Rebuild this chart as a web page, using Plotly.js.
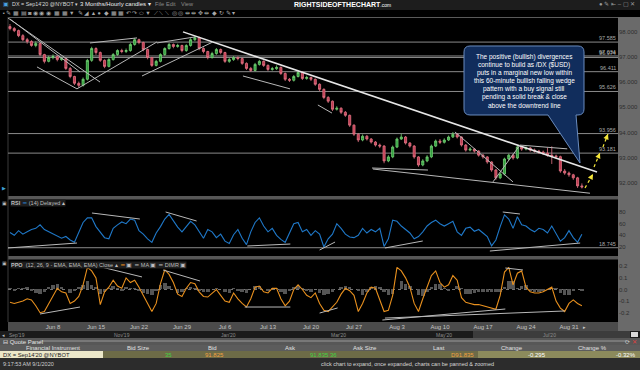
<!DOCTYPE html>
<html><head><meta charset="utf-8">
<script src="https://cdn.plot.ly/plotly-3.0.1.min.js"></script>
<style>html,body{margin:0;padding:0;background:#000;overflow:hidden}#chart{width:640px;height:370px}</style>
</head><body><div id="chart"></div><script>
// ---------------- DATA (half-day candles, day index 0 = Mon Jun 1 2020, trading days only) ----------------
const close = [98.12,98.04,97.84,97.68,97.61,97.45,97.53,97.09,96.82,96.97,
97.01,96.89,96.93,96.54,96.22,95.95,95.87,96.11,96.86,97.33,
97.17,96.86,96.62,96.89,97.09,97.25,97.21,97.25,97.49,97.68,
97.57,97.29,96.97,96.66,96.82,97.09,97.33,97.49,97.41,97.45,
97.25,97.45,97.68,97.76,97.33,97.21,96.97,97.13,97.29,97.17,
96.82,96.89,96.97,96.93,96.74,96.54,96.46,96.70,96.82,96.66,
96.50,96.53,96.58,96.34,96.11,96.07,96.22,96.38,96.14,96.18,
96.11,95.91,95.71,95.39,95.24,94.92,94.96,94.80,94.68,94.29,
93.93,93.70,93.85,93.74,93.62,93.50,93.46,92.87,93.03,93.42,
93.74,93.82,93.58,93.46,93.03,92.71,92.87,93.03,93.46,93.66,
93.61,93.70,93.82,93.93,93.82,93.50,93.30,93.34,93.26,93.10,
93.03,92.83,92.51,92.20,92.35,92.95,93.10,92.99,93.42,93.34,
93.38,93.30,93.26,93.22,93.18,93.10,93.07,93.04,92.47,92.39,
92.32,92.20,91.88,91.84];
const high = [98.30,98.18,98.08,97.90,97.75,97.66,97.62,97.58,97.12,97.04,
97.10,97.06,97.00,96.97,96.60,96.25,96.02,96.18,96.92,97.40,
97.38,97.21,96.90,96.95,97.15,97.30,97.32,97.33,97.55,97.75,
97.72,97.60,97.33,97.00,96.88,97.14,97.38,97.55,97.53,97.52,
97.48,97.50,97.74,97.84,97.80,97.38,97.24,97.20,97.35,97.33,
97.20,96.96,97.03,97.02,96.97,96.78,96.60,96.76,96.88,96.86,
96.70,96.60,96.66,96.62,96.38,96.16,96.28,96.44,96.42,96.25,
96.22,96.14,95.95,95.75,95.44,95.27,95.04,95.00,94.85,94.71,
94.32,93.97,93.92,93.90,93.78,93.66,93.56,93.50,93.10,93.48,
93.80,93.95,93.86,93.62,93.50,93.06,92.94,93.10,93.52,93.72,
93.74,93.77,93.88,94.02,93.97,93.85,93.54,93.42,93.38,93.30,
93.15,93.06,92.86,92.55,92.42,93.00,93.16,93.14,93.50,93.47,
93.45,93.42,93.36,93.31,93.28,93.40,93.45,93.12,93.08,92.55,
92.45,92.36,92.24,91.98];
const low = [98.05,97.98,97.78,97.62,97.52,97.40,97.38,97.02,96.74,96.78,
96.90,96.82,96.84,96.48,96.15,95.88,95.78,95.82,96.06,96.80,
97.08,96.80,96.55,96.58,96.85,97.04,97.14,97.15,97.20,97.44,
97.50,97.22,96.90,96.60,96.62,96.78,97.04,97.28,97.34,97.36,
97.18,97.20,97.40,97.62,97.26,97.14,96.90,96.93,97.08,97.10,
96.76,96.76,96.84,96.86,96.68,96.48,96.40,96.42,96.65,96.60,
96.44,96.45,96.48,96.28,96.04,96.00,96.02,96.18,96.08,96.09,
96.04,95.85,95.64,95.32,95.17,94.85,94.87,94.73,94.62,94.22,
93.86,93.62,93.65,93.68,93.56,93.44,93.38,92.78,92.82,92.98,
93.38,93.70,93.52,93.40,92.96,92.64,92.66,92.82,92.98,93.42,
93.54,93.56,93.66,93.78,93.76,93.44,93.24,93.25,93.20,93.04,
92.96,92.76,92.44,92.12,92.15,92.30,92.90,92.92,92.94,93.27,
93.29,93.24,93.20,93.15,93.11,93.04,92.75,92.98,92.40,92.32,
92.24,92.12,91.80,91.78];
const firstOpen = 98.20;
const open = [firstOpen].concat(close.slice(0, -1));

const rsi = [45,40,48,42,46,50,52,58,50,46,
42,38,35,38,32,28,45,62,70,70,
55,45,36,34,52,58,63,60,68,66,
48,42,34,28,44,55,68,76,64,54,
46,56,64,58,46,35,50,46,36,42,
30,26,41,50,35,24,46,62,70,56,
46,52,40,33,28,45,60,62,46,50,
40,48,42,20,34,42,60,52,42,37,
36,40,52,44,50,46,52,21,34,66,
64,56,50,44,34,38,46,56,62,66,
60,56,60,64,46,40,52,54,47,50,
44,38,22,32,55,75,68,52,72,58,
56,50,46,52,50,44,56,44,30,36,
48,36,28,42];

const ppo = [-0.11,-0.12,-0.11,-0.10,-0.08,-0.09,-0.14,-0.20,-0.19,-0.12,
-0.05,0.01,-0.02,-0.03,-0.12,-0.10,-0.06,0.04,0.19,0.16,
0.10,-0.13,-0.02,0.02,0.08,0.03,0.01,0.10,0.06,0.08,
0.02,-0.05,-0.13,-0.19,-0.12,0.05,0.17,0.13,0.06,-0.04,
-0.06,0.01,0.06,0.05,-0.02,-0.06,-0.065,-0.03,0.00,-0.05,
-0.10,-0.11,-0.03,-0.08,-0.12,-0.15,-0.08,0.02,0.03,-0.02,
-0.03,0.01,0.01,-0.08,-0.14,-0.10,0.00,0.04,0.00,-0.05,
-0.07,-0.03,-0.12,-0.18,-0.19,-0.15,-0.11,-0.04,0.01,-0.01,
-0.05,-0.19,-0.12,-0.03,0.02,0.01,-0.10,-0.19,-0.18,-0.05,
0.19,0.16,0.10,0.02,-0.12,-0.19,-0.08,0.02,0.12,0.16,
0.06,0.02,0.04,0.12,0.08,-0.07,-0.11,-0.12,-0.13,-0.13,
-0.14,-0.15,-0.16,-0.17,-0.05,0.15,0.19,0.04,0.14,0.16,
0.02,-0.02,-0.03,-0.03,-0.02,0.00,0.02,-0.10,-0.16,-0.19,
-0.12,-0.09,-0.12,-0.14];

const ppoHist = [0.01,-0.01,0.01,0.01,0.02,-0.01,-0.03,-0.04,-0.02,0.02,
0.04,0.05,0.02,0.00,-0.03,-0.01,0.02,0.04,0.07,0.04,
0.02,-0.04,-0.02,0.01,0.03,0.01,-0.01,0.02,0.01,0.01,
-0.01,-0.03,-0.04,-0.05,-0.01,0.04,0.06,0.03,0.00,-0.03,
-0.02,0.01,0.02,0.01,-0.01,-0.02,-0.02,0.00,0.01,0.00,
-0.02,-0.03,0.01,-0.01,-0.02,-0.03,0.00,0.03,0.03,0.00,
-0.01,0.01,0.01,-0.02,-0.04,-0.01,0.02,0.03,0.01,-0.01,
-0.02,0.00,-0.03,-0.05,-0.04,-0.02,0.00,0.02,0.03,0.02,
0.00,-0.01,-0.05,-0.02,0.02,0.03,0.02,-0.02,-0.05,-0.04,
0.00,0.07,0.05,0.03,0.00,-0.05,-0.06,-0.02,0.02,0.05,
0.05,0.01,-0.01,0.00,0.03,0.01,-0.04,-0.04,-0.03,-0.02,
-0.02,-0.02,-0.02,-0.02,-0.02,0.02,0.07,0.07,0.01,0.03,
0.04,-0.01,-0.02,-0.02,-0.01,0.00,0.01,0.01,-0.03,-0.05,
-0.05,-0.01,0.00,-0.01];

const dayIndex = close.map((_, i) => i * 0.5);
const weekTickDays = [5,10,15,20,25,30,35,40,45,50,55,60,65];
const weekTickLabels = ['Jun 8','Jun 15','Jun 22','Jun 29','Jul 6','Jul 13','Jul 20','Jul 27','Aug 3','Aug 10','Aug 17','Aug 24','Aug 31'];
const priceTicks = [92,93,94,95,96,97,98];
const rsiTicks = [20,40,60,80];
const ppoTicks = [-0.2,-0.1,0,0.1,0.2];
const ppoTickLabels = ['-0.2','-0.1','0.0','0.1','0.2'];
const priceLevels = [97.585, 97.034, 96.974, 96.411, 95.626, 93.956, 93.181];
const rsiLevel = 18.745;
// drawn trend lines [x0, y0, x1, y1] in (day index, value)
const mainDowntrend = [20.12, 97.99, 68.26, 92.43];
const priceTrendLines = [
  [-0.23,98.54,10.47,96.00],[0.0,98.50,8.14,96.40],[3.14,96.60,7.79,95.73],
  [7.79,95.73,17.09,97.59],[9.3,97.55,14.77,97.75],[15.35,96.24,23.6,97.59],
  [17.09,97.55,21.5,97.79],[27.09,96.24,32.56,95.73],[35.8,95.09,37.44,94.77],
  [42.1,92.59,48.6,92.51],[42.2,92.55,67.44,91.59],[51.74,94.02,58.49,92.04],
  [56.16,92.04,59.3,93.50],[59.3,93.50,64.8,93.35]
];
const rsiTrendLines = [
  [-0.23,18.3,7.79,26.8],[9.53,78.3,15.1,68.0],[18.1,80,21.7,64.6],[27.6,21.7,32.6,25.1],
  [36.0,14.8,37.8,28.5],[43.6,18.3,48.0,30.3],[55.8,13.1,66.3,26.8],[57.3,80,59.3,76.6]
];
const ppoTrendLines = [
  [3.49,-0.211,8.14,-0.151],[27.3,-0.151,32.6,-0.151],[36.0,-0.203,38.1,-0.159],
  [43.3,-0.263,57.6,-0.168],[43.6,-0.246,64.5,-0.185],[8.72,0.228,15.35,0.108],
  [17.8,0.168,22.1,0.073],[57.6,0.185,59.65,0.168]
];
const breakoutArrows = [[66.86,91.80,67.79,92.35],[67.91,92.63,68.60,93.19],[68.95,93.42,69.53,93.94]];
const calloutLines = ['The positive (bullish) divergences','continue to build as /DX ($USD)','puts in a marginal new low within',
  'this 60-minute bullish falling wedge','pattern with a buy signal still','pending a solid break & close','above the downtrend line'];
const overviewLabels = ["Sep'19","Nov'19","Jan'20","Mar'20","May'20","Jul'20"];
const quoteHeaders = ['Financial Instrument','Bid Size','Bid','Ask','Ask Size','Last','Change','Change %'];

// ---------------- LAYOUT HELPERS ----------------
const W = 640, H = 370;
const FONT = 'Liberation Sans, Arial, sans-serif';
const NARROW = 'Liberation Sans Narrow, Liberation Sans, Arial, sans-serif';
const px = v => v / W;
const py = v => 1 - v / H;
const shapes = [];
const ann = [];
function rect(x0, y0, x1, y1, fill, layer, line) {
  shapes.push({type:'rect', xref:'paper', yref:'paper', x0:px(x0), x1:px(x1), y0:py(y1), y1:py(y0),
    fillcolor:fill, line: line || {width:0}, layer: layer || 'below'});
}
function pline(x0, y0, x1, y1, color, w, layer) {
  shapes.push({type:'line', xref:'paper', yref:'paper', x0:px(x0), x1:px(x1), y0:py(y0), y1:py(y1),
    line:{color:color, width:w || 1}, layer: layer || 'below'});
}
function label(x, y, text, size, color, anchor, extra, family) {
  ann.push(Object.assign({xref:'paper', yref:'paper', x:px(x), y:py(y), text:text, showarrow:false,
    xanchor: anchor || 'left', yanchor:'middle', borderpad:0, font:{family:family || FONT, size:size, color:color}}, extra || {}));
}
function dataLine(l, yref, color, w, dash) {
  shapes.push({type:'line', xref:'x', yref:yref, x0:l[0], y0:l[1], x1:l[2], y1:l[3],
    line:{color:color, width:w, dash: dash || 'solid'}, layer:'above'});
}

// ---------------- CHROME ----------------
rect(0, 0, 640, 10, '#1d1d1d');
rect(618, 17, 640, 331, '#6a6a6a');
rect(8, 322, 618, 331, '#4b4b4b');
rect(0, 331, 640, 338, '#1b1b1b');
rect(473, 331, 630, 338, '#3c3c3c');
rect(631, 332, 638, 337, '#d8d8d8');
rect(0, 338, 640, 345, '#575757');
rect(0, 345, 640, 351, '#5c5c5c');
rect(103, 351, 478, 358, '#6d6b47');
rect(478, 351, 640, 358, '#8c8a5c');
rect(0, 351, 103, 358, '#ebe7c9');
rect(0, 358, 640, 370, '#2c2c2c');
rect(8, 196, 618, 199.5, '#575757');
rect(8, 256, 618, 259.5, '#575757');
pline(8, 17.5, 618, 17.5, '#5a5a5a', 1);
pline(8, 17, 8, 322, '#3a3a3a', 1);
pline(40, 341, 627, 341, '#9a9a9a', 1);

label(2, 4.5, '▣', 6, '#4aa3df');
label(11, 4.5, "DX = Sep14'20 @NYBOT ▾", 5.4, '#d8d8d8', 'left', null, NARROW);
label(79, 4.5, '3 Months/Hourly candles ▾', 6, '#ececec', 'left', null, NARROW);
label(154, 4.5, 'File', 5.6, '#8a8a8a');
label(165, 4.5, 'Edit', 5.6, '#8a8a8a');
label(180, 4.5, 'View', 5.6, '#8a8a8a');
label(293, 4.2, '<b>RIGHTSIDEOFTHECHART</b><span style="font-size:5px">.com</span>', 7, '#ffffff', 'left', null, NARROW);
label(636, 4.5, '● ✎ ⇤ – ▢ ✕', 6, '#9a9a9a', 'right');
label(2, 13.5, '▪ ✎ ▦ ▤ ◙ ◉ ◉ ◉  ▦ ▦ ▼  ✎ ◢ ▲ ●  ◆ ▦ ▦ ↶ ↷ ⬭ ▼  ⟋ ⟍ ⟍  ◎ ◎ ⇹ ⇹ ✥ ⇹  ◆ ↻ ✎ ▾', 5.5, '#a8a8a8');
label(1, 188, '▶', 5, '#3fa0d8');
label(1, 203, '▣', 5, '#bbbbbb');
label(1, 263, '▣', 5, '#bbbbbb');

// panel labels
label(10, 203, '<b>RSI</b>  <span style="color:#2a80d0">━</span> (14) Delayed ▴', 5.5, '#bdbdbd', 'left', {bgcolor:'#1e1e1e'});
label(10, 264.5, '<b>PPO</b>  (12, 26, 9 - EMA, EMA, EMA) Close ▴  <span style="color:#e8901e">━</span> ▣  ━ MA ▣  ━ DIMR ▣', 5.5, '#bdbdbd', 'left', {bgcolor:'#1e1e1e'});

// x band extra, overview, quote panel
label(582, 327, '▸', 5, '#cccccc');
const overviewX = [8, 113, 220, 330, 435, 542];
overviewLabels.forEach((t, i) => label(overviewX[i], 334.5, t, 5, '#8c8c8c'));
label(0.5, 334.5, '◂', 5, '#bbbbbb');
label(2, 341.5, '⊟ Quote Panel', 6, '#e6e6e6');
label(638, 342, '⟳ <span style="color:#e04040">✕</span>', 5.5, '#cfcfcf', 'right');
const headerX = [53, 138, 212, 290, 365, 439, 512, 592];
quoteHeaders.forEach((t, i) => label(headerX[i], 348, t, 6, '#e0e0e0', 'center'));
label(2, 354.5, "DX = Sep14'20 @NYBOT", 5.8, '#222222');
label(173, 354.5, '35', 6, '#43d243', 'right');
label(214, 354.5, '91.825', 6, '#f0a040', 'center');
label(330, 354.5, '91.835', 6, '#43d243', 'right');
label(338, 354.5, '36', 6, '#43d243', 'right');
label(475, 354.5, 'D91.835', 6, '#f0a040', 'right');
label(547, 354.5, '-0.295', 6, '#ffffff', 'right');
label(637, 354.5, '-0.32%', 6, '#ffffff', 'right');
label(2, 364, '9:17:53 AM 9/1/2020', 5.5, '#cfcfcf');
label(320, 364, 'click chart to expand, once expanded, charts can be panned &amp; zoomed', 5.5, '#d8d8d8');

// price levels
priceLevels.forEach(v => {
  shapes.push({type:'line', xref:'paper', yref:'y', x0:px(8), x1:px(618), y0:v, y1:v, line:{color:'#8a8a8a', width:1}, layer:'below'});
  ann.push({xref:'paper', yref:'y', x:px(617), y:v, xanchor:'right', yanchor:'bottom', text:v.toFixed(3), showarrow:false,
    borderpad:0, font:{family:FONT, size:5.5, color:'#a8a8a8'}});
});
shapes.push({type:'line', xref:'paper', yref:'y2', x0:px(8), x1:px(618), y0:rsiLevel, y1:rsiLevel, line:{color:'#8a8a8a', width:1}, layer:'below'});
ann.push({xref:'paper', yref:'y2', x:px(617), y:rsiLevel, xanchor:'right', yanchor:'bottom', text:rsiLevel.toFixed(3), showarrow:false,
  borderpad:0, font:{family:FONT, size:5.5, color:'#a8a8a8'}});
shapes.push({type:'line', xref:'paper', yref:'y3', x0:px(8), x1:px(582), y0:0, y1:0, line:{color:'#777777', width:1, dash:'dot'}, layer:'below'});

// trend lines
dataLine(mainDowntrend, 'y', '#e6e6e6', 1.5);
priceTrendLines.forEach(l => dataLine(l, 'y', '#b8b8b8', 1));
rsiTrendLines.forEach(l => dataLine(l, 'y2', '#b8b8b8', 1));
ppoTrendLines.forEach(l => dataLine(l, 'y3', '#b8b8b8', 1));

// yellow dashed breakout arrows
breakoutArrows.forEach(a => {
  dataLine(a, 'y', '#f5e63a', 1.2, 'dot');
  const dx = (a[2] - a[0]) * 8.6, dy = -(a[3] - a[1]) * 25.2;
  const len = Math.hypot(dx, dy);
  ann.push({xref:'x', yref:'y', x:a[2], y:a[3], ax:-dx / len * 4, ay:-dy / len * 4, text:'', showarrow:true,
    arrowhead:2, arrowsize:0.9, arrowwidth:1.2, arrowcolor:'#f5e63a'});
});

// callout balloon
(function () {
  const L = 464, T = 46, R = 584, B = 115, r = 6;
  const pts = [['M', L + r, T], ['L', R - r, T], ['Q', R, T, R, T + r], ['L', R, B - r], ['Q', R, B, R - r, B],
    ['L', 576, B], ['L', 580, 163], ['L', 548, B], ['L', L + r, B], ['Q', L, B, L, B - r], ['L', L, T + r], ['Q', L, T, L + r, T]];
  let path = '';
  pts.forEach(p => {
    path += p[0] + ' ';
    for (let k = 1; k < p.length; k += 2) path += px(p[k]).toFixed(5) + ',' + py(p[k + 1]).toFixed(5) + ' ';
  });
  path += 'Z';
  shapes.push({type:'path', xref:'paper', yref:'paper', path:path, fillcolor:'#112d5c', line:{color:'#6a8cbf', width:1}, layer:'above'});
  calloutLines.forEach((t, i) => label(524, 56.7 + i * 8.05, t, 6.5, '#ffffff', 'center'));
})();

// ---------------- TRACES ----------------
const data = [
  {type:'candlestick', x:dayIndex, open:open, high:high, low:low, close:close, xaxis:'x', yaxis:'y',
   increasing:{line:{color:'#74d074', width:0.8}, fillcolor:'#2e9e3e'},
   decreasing:{line:{color:'#e27484', width:0.8}, fillcolor:'#c03a50'},
   whiskerwidth:0, hoverinfo:'skip'},
  {type:'scatter', mode:'lines', x:dayIndex, y:rsi, xaxis:'x', yaxis:'y2', line:{color:'#1f78c8', width:1.1}, hoverinfo:'skip'},
  {type:'bar', x:dayIndex, y:ppoHist, xaxis:'x', yaxis:'y3', marker:{color:'#555555', line:{width:0}}, width:0.4, hoverinfo:'skip'},
  {type:'scatter', mode:'lines', x:dayIndex, y:ppo, xaxis:'x', yaxis:'y3', line:{color:'#e8901e', width:1.1}, hoverinfo:'skip'}
];

const axisFont = {family:FONT, size:6, color:'#2e2e2e'};
const layout = {
  width:W, height:H, margin:{l:0, r:0, t:0, b:0},
  paper_bgcolor:'#000000', plot_bgcolor:'rgba(0,0,0,0)', showlegend:false,
  xaxis:{domain:[px(8), px(618)], range:[-0.23, 70.7], anchor:'y3', tickmode:'array', tickvals:weekTickDays, ticktext:weekTickLabels,
    tickfont:{family:FONT, size:6, color:'#c4c4c4'}, showgrid:false, zeroline:false, showline:false, ticks:'',
    rangeslider:{visible:false}, fixedrange:true},
  yaxis:{domain:[py(196), py(18)], range:[91.48, 98.54], side:'right', anchor:'x', tickmode:'array', tickvals:priceTicks,
    tickformat:'.3f', tickfont:axisFont, showgrid:false, zeroline:false, showline:false, ticks:'', fixedrange:true},
  yaxis2:{domain:[py(256), py(200)], range:[4.55, 100.6], side:'right', anchor:'x', tickmode:'array', tickvals:rsiTicks,
    tickfont:axisFont, showgrid:false, zeroline:false, showline:false, ticks:'', fixedrange:true},
  yaxis3:{domain:[py(322), py(260)], range:[-0.28, 0.254], side:'right', anchor:'x', tickmode:'array', tickvals:ppoTicks,
    ticktext:ppoTickLabels, tickfont:axisFont, showgrid:false, zeroline:false, showline:false, ticks:'', fixedrange:true},
  bargap:0, shapes:shapes, annotations:ann
};
Plotly.newPlot('chart', data, layout, {staticPlot:true, displayModeBar:false});
</script></body></html>
